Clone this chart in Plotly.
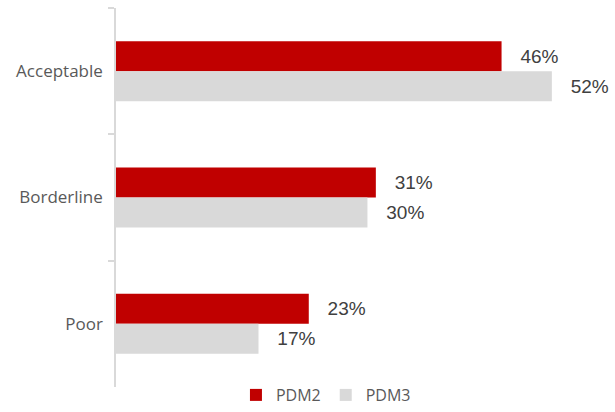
import plotly.graph_objects as go

# Food consumption score categories and shares per round
categories = ["Acceptable", "Borderline", "Poor"]
pdm2 = [46, 31, 23]
pdm3 = [52, 30, 17]
series_names = ["PDM2", "PDM3"]
colors = ["#C00000", "#D9D9D9"]

fig = go.Figure()
for name, vals, col in zip(series_names, [pdm2, pdm3], colors):
    fig.add_trace(go.Bar(
        y=categories, x=vals, name=name, orientation="h",
        marker=dict(color=col, line=dict(width=0)),
        text=[f"{v}%" for v in vals], texttemplate="   %{text}",
        textposition="outside",
        textfont=dict(family="Liberation Sans, Arial", size=19, color="#404040"),
        cliponaxis=False,
    ))

fig.update_layout(
    width=615, height=412,
    margin=dict(l=116, r=38, t=8, b=25, autoexpand=False),
    paper_bgcolor="white", plot_bgcolor="white",
    barmode="group", bargap=0.525, bargroupgap=0,
    showlegend=True,
    legend=dict(orientation="h", x=0.53, xanchor="center", xref="container",
                y=0.0, yanchor="bottom", yref="container",
                font=dict(family="Open Sans, Lato", size=16, color="#595959"),
                itemwidth=30, traceorder="normal", tracegroupgap=0),
    xaxis=dict(range=[0, 55], showgrid=False, zeroline=False, showticklabels=False,
               showline=False, ticks=""),
    yaxis=dict(autorange="reversed", categoryorder="array", categoryarray=categories,
               showline=True, linecolor="#D9D9D9", linewidth=1.5,
               ticks="outside", tickson="boundaries", ticklen=6, tickcolor="#D9D9D9",
               tickwidth=1.5, showgrid=False,
               tickfont=dict(family="Open Sans, Lato", size=17, color="#595959"),
               ticklabelstandoff=8),
)

fig.write_html("out.html")
